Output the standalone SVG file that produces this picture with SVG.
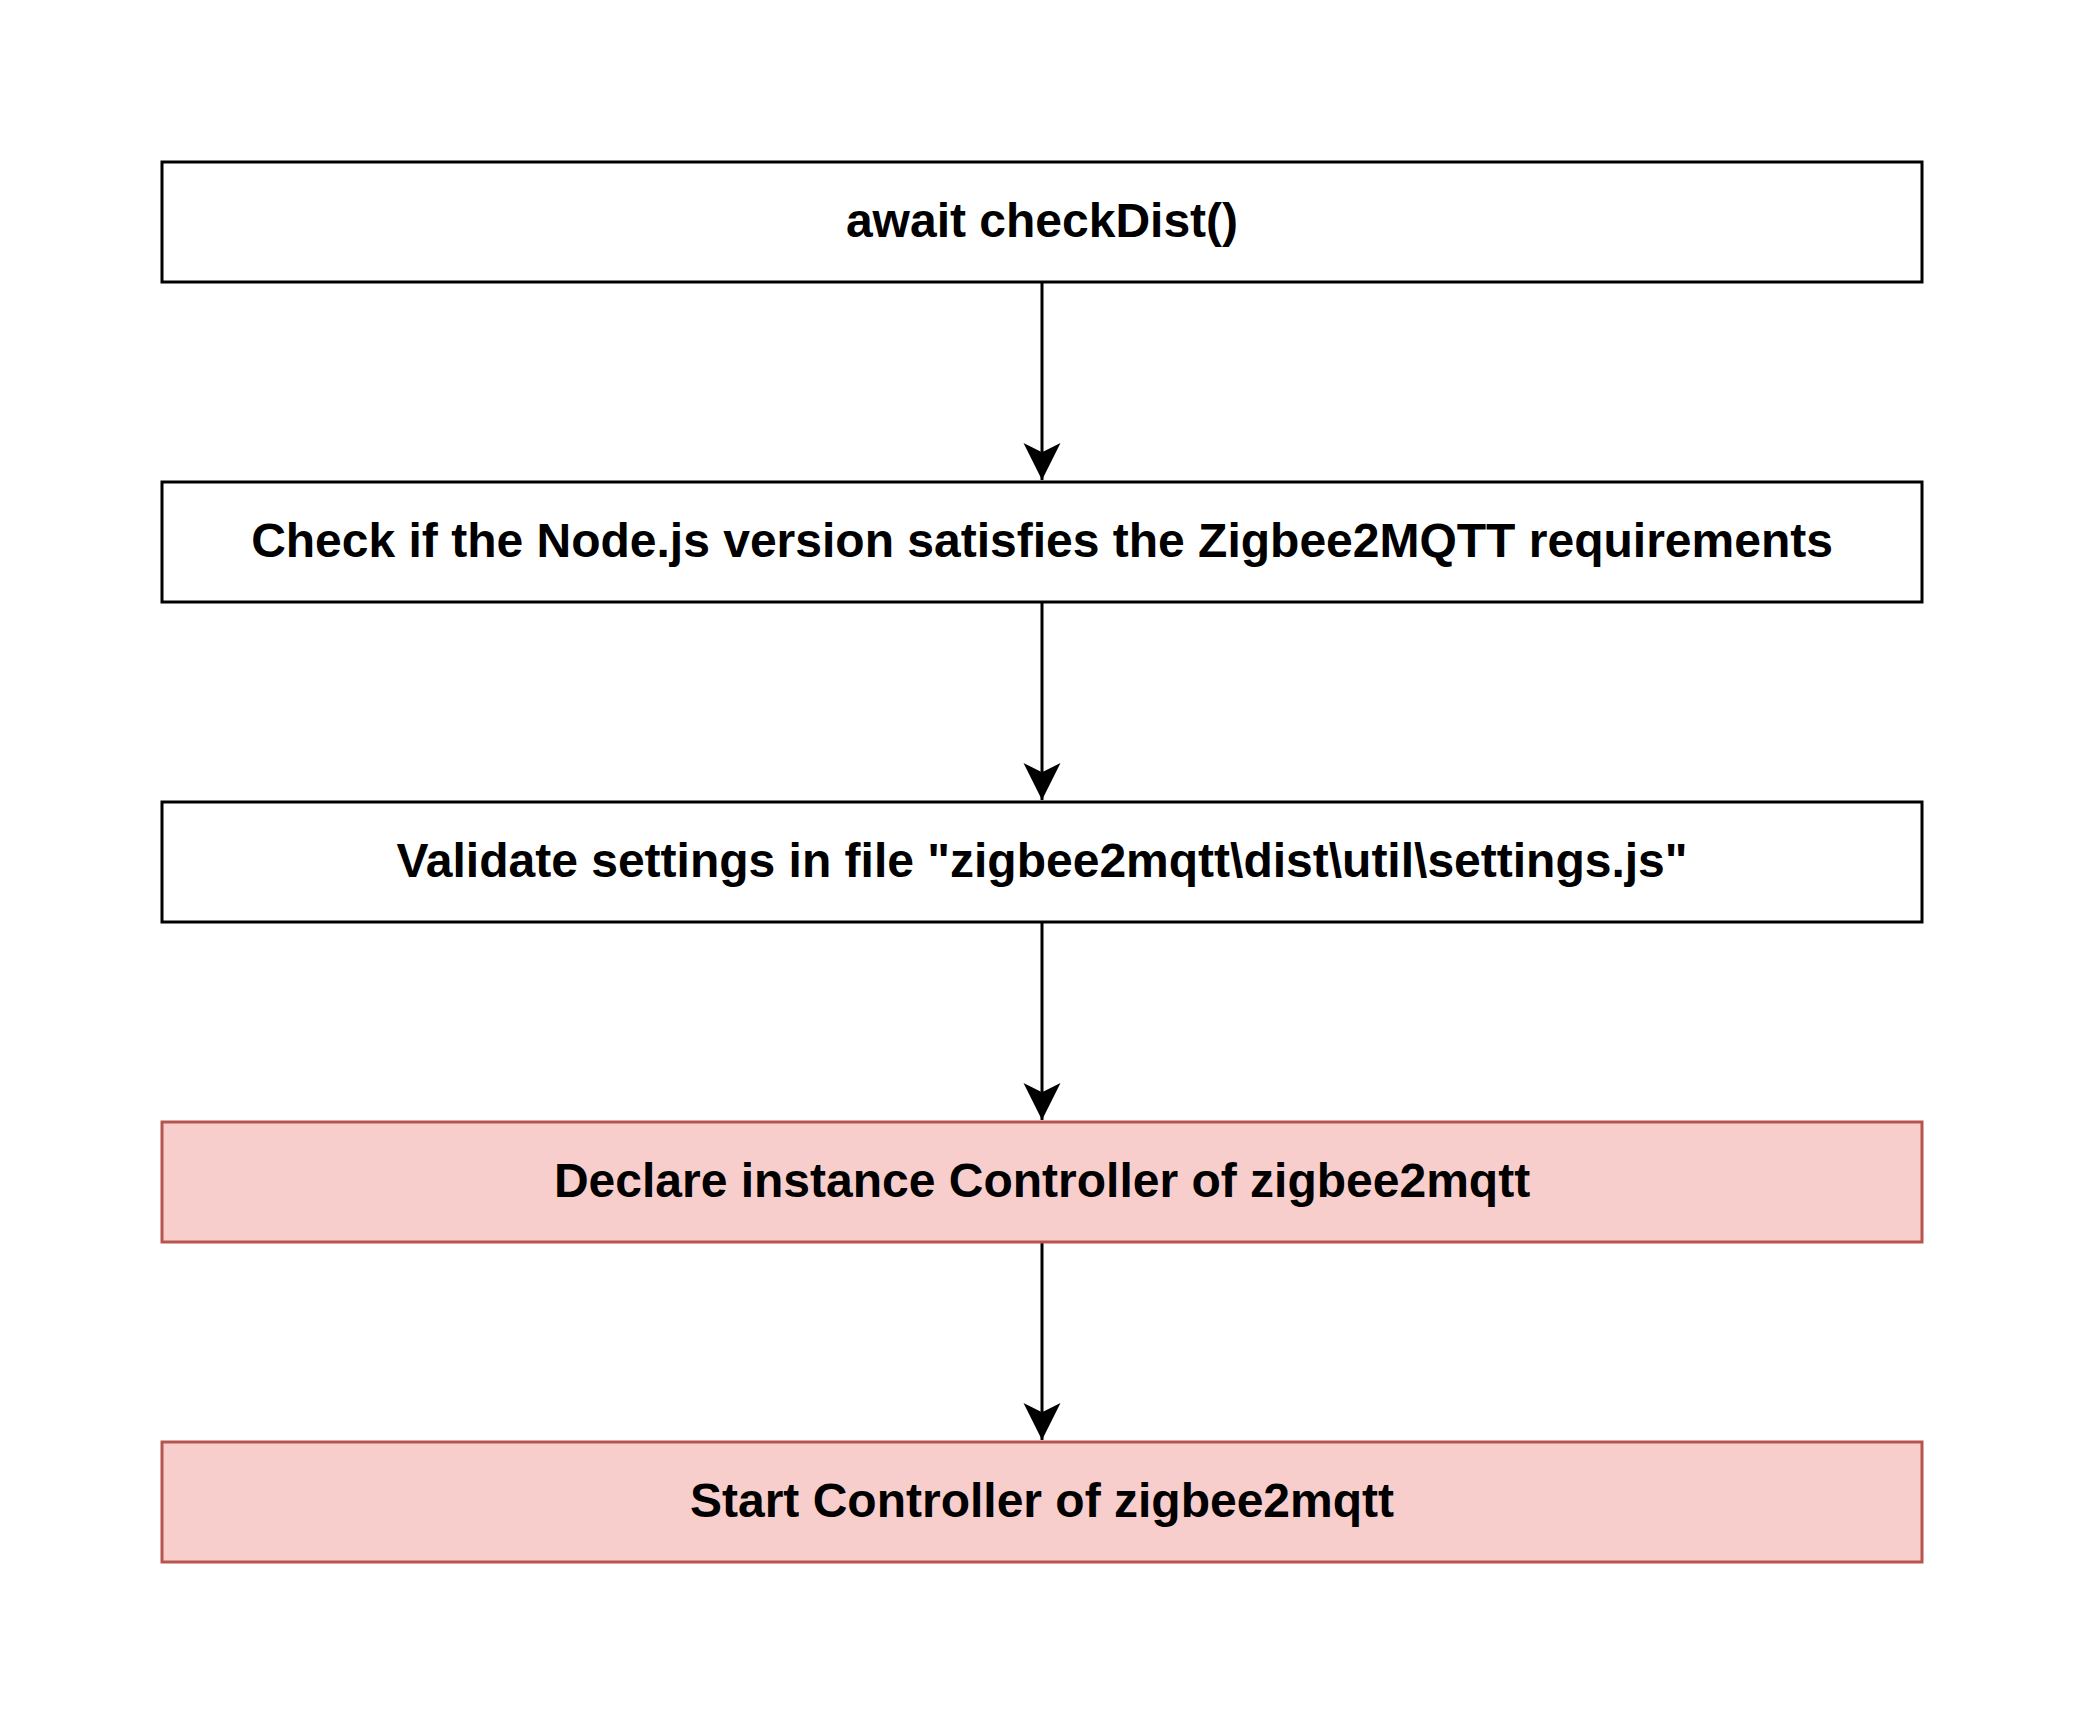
<svg xmlns="http://www.w3.org/2000/svg" width="2088" height="1728" viewBox="0 0 2088 1728">
<style>
.box{fill:#ffffff;stroke:#000000;stroke-width:3}
.red{fill:#f8cecc;stroke:#b85450;stroke-width:3}
.lbl{font-family:"Liberation Sans",Arial,sans-serif;font-weight:bold;font-size:48px;fill:#000000;text-anchor:middle}
.edge{stroke:#000000;stroke-width:3;fill:none}
</style>
<defs>
<marker id="arr" markerUnits="userSpaceOnUse" markerWidth="40" markerHeight="40" viewBox="-38 -20 40 40" refX="0" refY="0" orient="auto">
<path d="M0,0 L-37,-18.5 L-27.75,0 L-37,18.5 Z" fill="#000000"/>
</marker>
</defs>
<rect width="2088" height="1728" fill="#ffffff"/>
<g id="connectors">
<line class="edge" x1="1042" y1="282" x2="1042" y2="480" marker-end="url(#arr)"/>
<line class="edge" x1="1042" y1="602" x2="1042" y2="800" marker-end="url(#arr)"/>
<line class="edge" x1="1042" y1="922" x2="1042" y2="1120" marker-end="url(#arr)"/>
<line class="edge" x1="1042" y1="1242" x2="1042" y2="1440" marker-end="url(#arr)"/>
</g>
<g id="node1">
<rect class="box" x="162" y="162" width="1760" height="120"/>
<text class="lbl" x="1042" y="237">await checkDist()</text>
</g>
<g id="node2">
<rect class="box" x="162" y="482" width="1760" height="120"/>
<text class="lbl" x="1042" y="557">Check if the Node.js version satisfies the Zigbee2MQTT requirements</text>
</g>
<g id="node3">
<rect class="box" x="162" y="802" width="1760" height="120"/>
<text class="lbl" x="1042" y="877">Validate settings in file "zigbee2mqtt\dist\util\settings.js"</text>
</g>
<g id="node4">
<rect class="red" x="162" y="1122" width="1760" height="120"/>
<text class="lbl" x="1042" y="1197">Declare instance Controller of zigbee2mqtt</text>
</g>
<g id="node5">
<rect class="red" x="162" y="1442" width="1760" height="120"/>
<text class="lbl" x="1042" y="1517">Start Controller of zigbee2mqtt</text>
</g>
</svg>
